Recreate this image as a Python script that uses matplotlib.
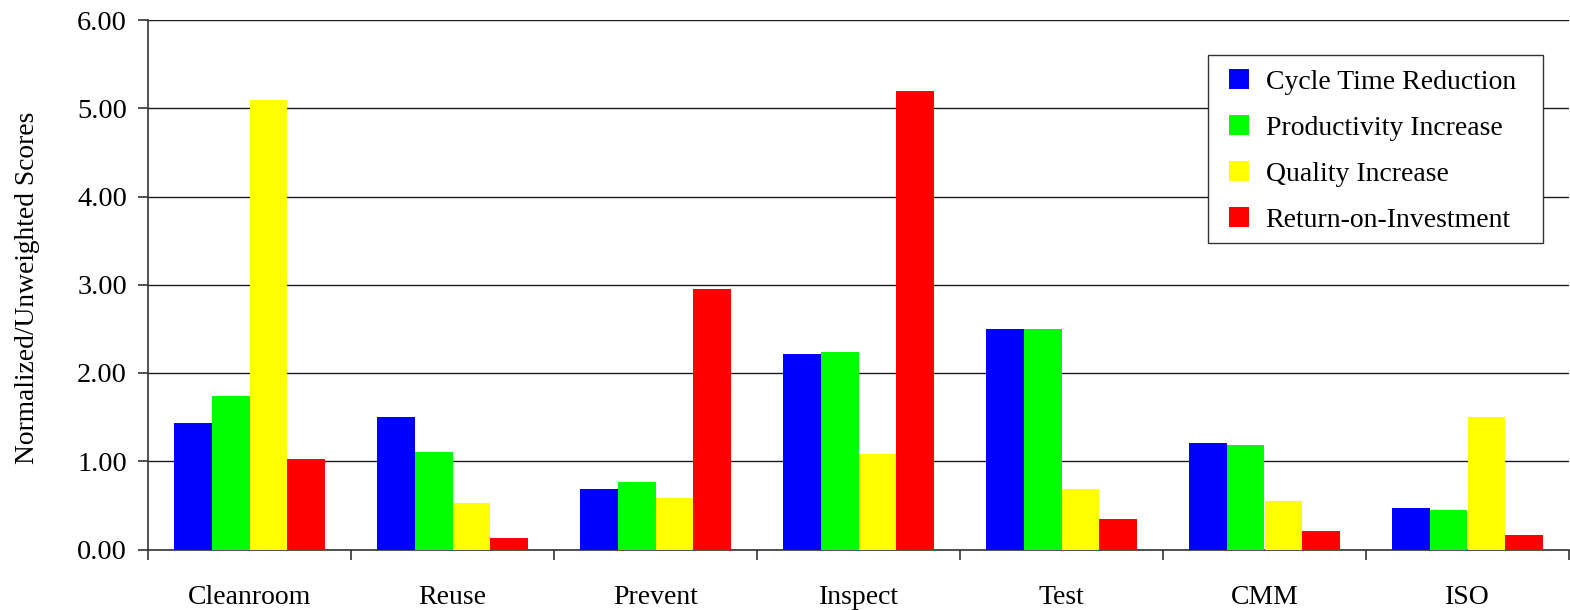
import numpy as np
import matplotlib
matplotlib.use("Agg")
import matplotlib.pyplot as plt
from matplotlib.patches import Rectangle
from matplotlib.ticker import FixedLocator, NullFormatter

plt.rcParams['font.family'] = ['Liberation Serif', 'DejaVu Serif']

categories = ["Cleanroom", "Reuse", "Prevent", "Inspect", "Test", "CMM", "ISO"]
series_names = ["Cycle Time Reduction", "Productivity Increase",
                "Quality Increase", "Return-on-Investment"]
cycle_time = [1.43, 1.50, 0.68, 2.21, 2.50, 1.21, 0.47]
productivity = [1.74, 1.11, 0.765, 2.24, 2.50, 1.185, 0.45]
quality = [5.09, 0.53, 0.58, 1.08, 0.68, 0.555, 1.50]
roi = [1.03, 0.135, 2.95, 5.19, 0.34, 0.215, 0.165]
yticks = [0, 1, 2, 3, 4, 5, 6]

colors = ["#0000ff", "#00ff00", "#ffff00", "#ff0000"]
all_series = [cycle_time, productivity, quality, roi]

fig = plt.figure(figsize=(15.7, 6.1), dpi=100)
ax = fig.add_axes([148 / 1570, 1 - 549.5 / 610, 1421 / 1570, 529.5 / 610])

x = np.arange(len(categories))
bw = 0.185
for i, (vals, col, name) in enumerate(zip(all_series, colors, series_names)):
    ax.bar(x + (i - 1.5) * bw, vals, width=bw, color=col, label=name,
           edgecolor='none', zorder=3)

ax.set_xlim(-0.5, len(categories) - 0.5)
ax.set_ylim(0, 6)

# horizontal gridlines
ax.set_yticks(yticks)
ax.set_yticklabels([f"{v:.2f}" for v in yticks])
ax.yaxis.grid(True, color='#1a1a1a', linewidth=1.0, zorder=1)
ax.set_axisbelow(True)

# category boundary ticks (major) and centred labels (minor)
ax.xaxis.set_major_locator(FixedLocator(np.arange(-0.5, len(categories), 1.0)))
ax.xaxis.set_major_formatter(NullFormatter())
ax.xaxis.set_minor_locator(FixedLocator(x))
ax.set_xticklabels(categories, minor=True)
ax.tick_params(axis='x', which='major', length=7.2, width=1.2, color='#333333',
               direction='out')
ax.tick_params(axis='x', which='minor', length=0, pad=25.5, labelsize=20)
ax.tick_params(axis='y', length=7.2, width=1.2, color='#333333', pad=8,
               labelsize=20.5)

for side in ('top', 'right'):
    ax.spines[side].set_visible(False)
ax.spines['left'].set_color('#333333')
ax.spines['left'].set_linewidth(1.2)
ax.spines['bottom'].set_color('#333333')
ax.spines['bottom'].set_linewidth(1.2)

ax.set_ylabel("Normalized/Unweighted Scores", fontsize=19.8)
ax.yaxis.set_label_coords(-0.076, 0.494)

# legend box drawn as a plain square-cornered panel
ax.add_patch(Rectangle((0.746, 0.5788), 0.2357, 0.3551, transform=ax.transAxes,
                       facecolor='white', edgecolor='#333333', linewidth=1.0,
                       zorder=4))
leg = ax.legend(loc='upper left', bbox_to_anchor=(0.7607, 0.907),
                fontsize=20, frameon=False, borderaxespad=0, borderpad=0,
                labelspacing=0.73, handlelength=0.72, handleheight=0.72,
                handletextpad=0.6)
leg.set_zorder(5)

fig.savefig("out.png", dpi=100, facecolor='white')
